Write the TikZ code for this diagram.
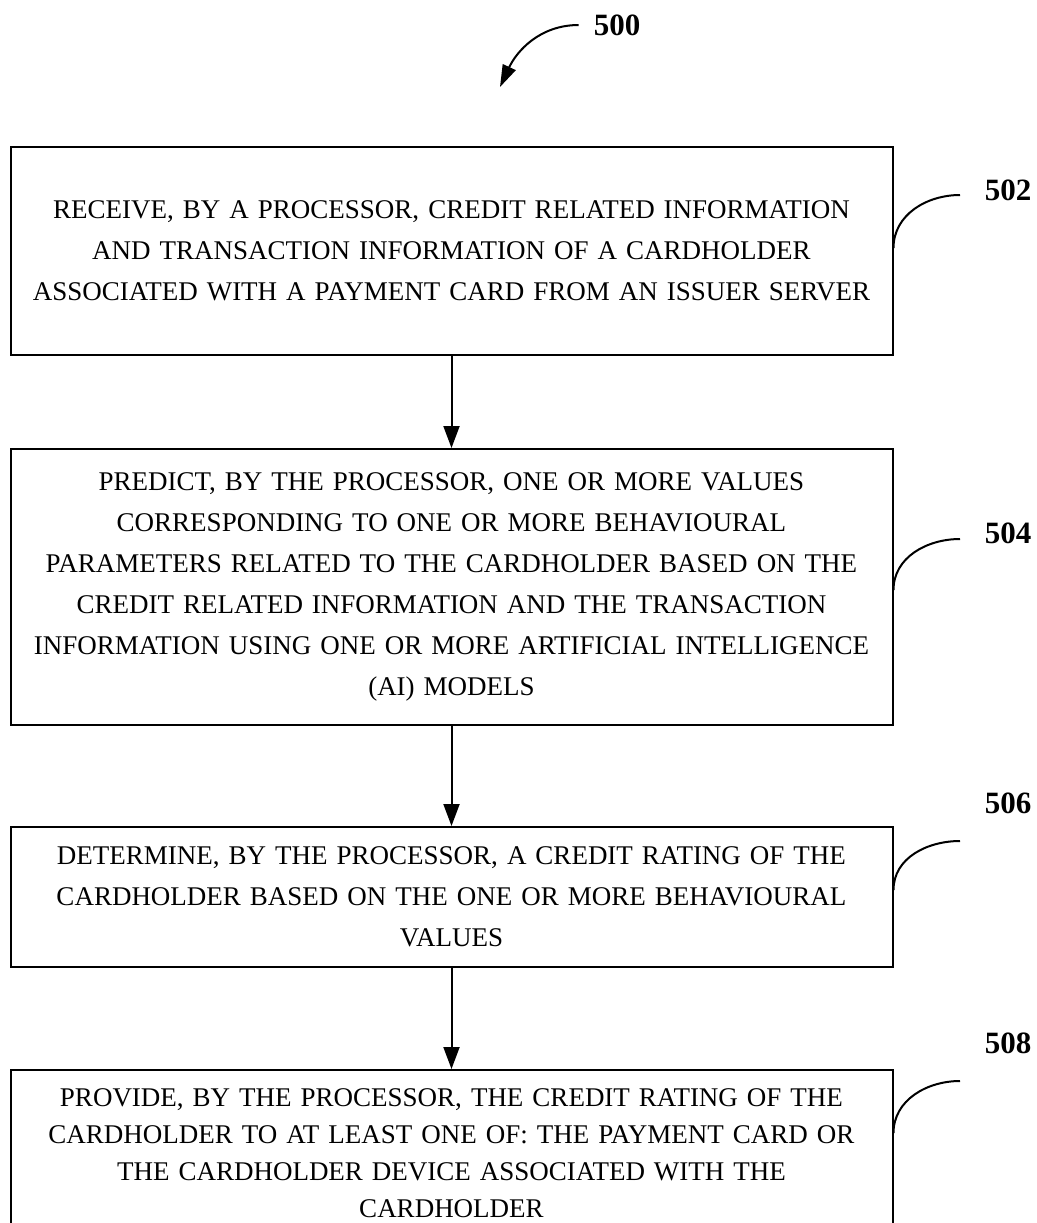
\documentclass[tikz,border=0pt]{standalone}
\usepackage{fontspec}
\setmainfont{Liberation Serif}
\usetikzlibrary{arrows.meta,positioning,calc}

\begin{document}
\begin{tikzpicture}[
  x=0.5pt, y=-0.5pt,
  font=\fontsize{13.5}{20.5}\selectfont,
  stepbox/.style={draw, line width=1pt, align=center, inner xsep=2pt,
              text width=436pt, minimum width=441pt},
  ref/.style={font=\fontsize{15.5}{18}\selectfont\bfseries},
  ar/.style={line width=1pt, -{Triangle[length=11pt,width=8pt]}},
  lead/.style={line width=1pt}
]
\useasboundingbox (0,0) rectangle (1037,1223);

\node[stepbox, minimum height=104pt] (b502) at (451.5,251)
  {RECEIVE, BY A PROCESSOR, CREDIT RELATED INFORMATION\\
   AND TRANSACTION INFORMATION OF A CARDHOLDER\\
   ASSOCIATED WITH A PAYMENT CARD FROM AN ISSUER SERVER};
\node[stepbox, minimum height=138pt, below=46pt of b502] (b504)
  {PREDICT, BY THE PROCESSOR, ONE OR MORE VALUES\\
   CORRESPONDING TO ONE OR MORE BEHAVIOURAL\\
   PARAMETERS RELATED TO THE CARDHOLDER BASED ON THE\\
   CREDIT RELATED INFORMATION AND THE TRANSACTION\\
   INFORMATION USING ONE OR MORE ARTIFICIAL INTELLIGENCE\\
   (AI) MODELS};
\node[stepbox, minimum height=70pt, below=50pt of b504] (b506)
  {DETERMINE, BY THE PROCESSOR, A CREDIT RATING OF THE\\
   CARDHOLDER BASED ON THE ONE OR MORE BEHAVIOURAL\\
   VALUES};
\node[stepbox, minimum height=83pt, below=50.5pt of b506,
      font=\fontsize{13.5}{18.5}\selectfont] (b508)
  {PROVIDE, BY THE PROCESSOR, THE CREDIT RATING OF THE\\
   CARDHOLDER TO AT LEAST ONE OF: THE PAYMENT CARD OR\\
   THE CARDHOLDER DEVICE ASSOCIATED WITH THE\\
   CARDHOLDER};

\draw[ar] (b502) -- (b504);
\draw[ar] (b504) -- (b506);
\draw[ar] (b506) -- (b508);

% reference numerals
\node[ref] (l500) at (617,25) {500};
\coordinate (a500) at (500,87);
\draw[ar, -{Triangle[length=11pt,width=7pt]}] ([xshift=-4pt]l500.west) to[out=180,in=65] (a500);

\node[ref] (l502) at (1008,190) {502};
\node[ref] (l504) at (1008,533) {504};
\node[ref] (l506) at (1008,803) {506};
\node[ref] (l508) at (1008,1043) {508};

\coordinate (t502) at (960,195);
\coordinate (t504) at (960,539);
\coordinate (t506) at (960,841);
\coordinate (t508) at (960,1081);
\draw[lead] (t502) to[out=180,in=90] ($(b502.east |- t502)+(0,53)$);
\draw[lead] (t504) to[out=180,in=90] ($(b504.east |- t504)+(0,51)$);
\draw[lead] (t506) to[out=180,in=90] ($(b506.east |- t506)+(0,49)$);
\draw[lead] (t508) to[out=180,in=90] ($(b508.east |- t508)+(0,52)$);
\end{tikzpicture}
\end{document}
